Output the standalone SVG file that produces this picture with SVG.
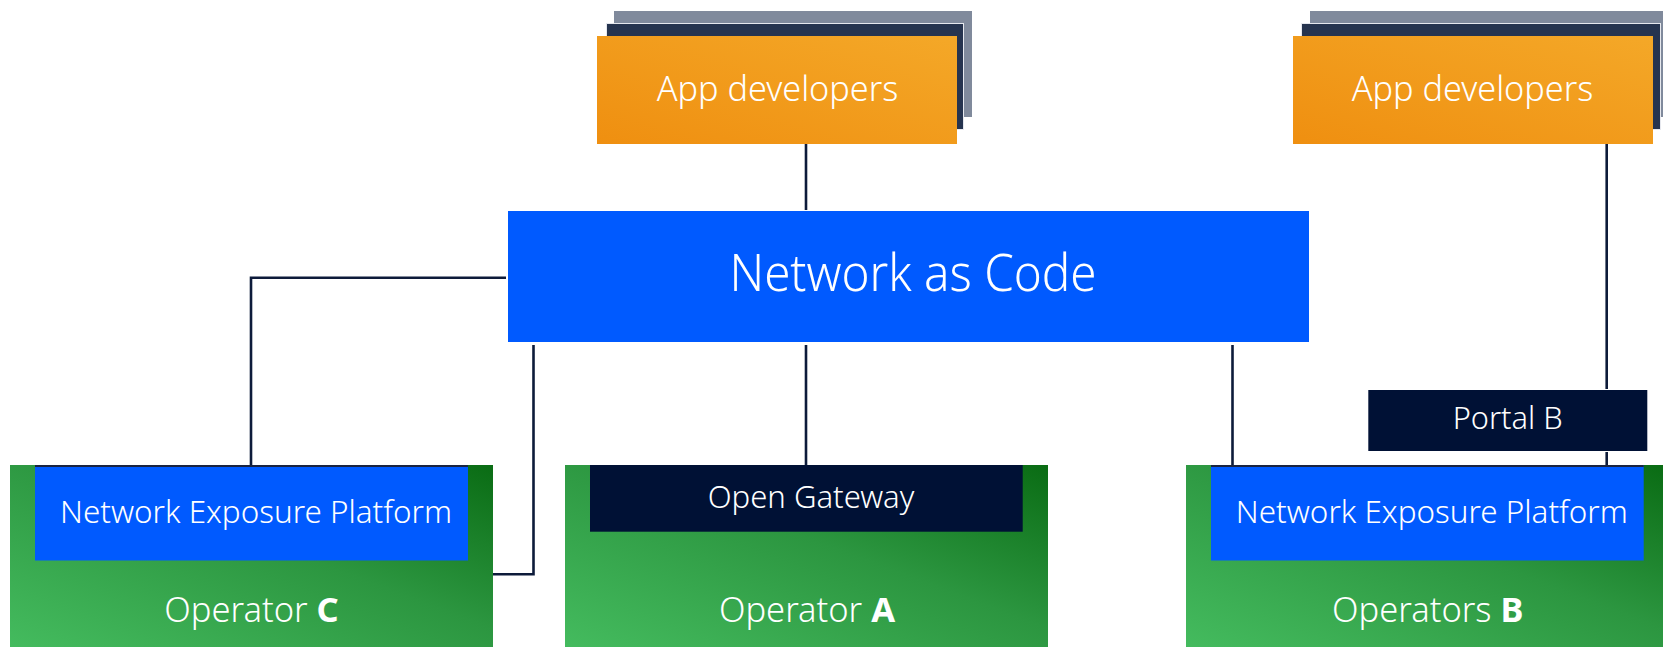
<svg xmlns="http://www.w3.org/2000/svg" width="1663" height="647" viewBox="0 0 1663 647">
<defs>
<linearGradient id="gGreen" x1="0" y1="1" x2="1" y2="0">
<stop offset="0" stop-color="#44bb5e"/>
<stop offset="0.55" stop-color="#2c9640"/>
<stop offset="1" stop-color="#0a6c14"/>
</linearGradient>
<linearGradient id="gOrange" x1="0" y1="1" x2="1" y2="0">
<stop offset="0" stop-color="#ef8f10"/>
<stop offset="1" stop-color="#f4a828"/>
</linearGradient>
<style>
text{font-family:"Noto Sans","Open Sans","DejaVu Sans",sans-serif;fill:#ffffff;text-anchor:middle}
.l{font-weight:300}
.back{fill:#808a9c}
.mid{fill:#26344f;stroke:#e6e8ee;stroke-width:1}
.orange{fill:url(#gOrange)}
.green{fill:url(#gGreen)}
.blue{fill:#005aff}
.navy{fill:#001135}
.conn{fill:none;stroke:#0d1b3a;stroke-width:2.6}
.edge{stroke:#1a2440;stroke-width:2}
</style>
</defs>

<g id="connectors">
<path class="conn" d="M806 144 V210"/>
<path class="conn" d="M1606.7 144 V389"/>
<path class="conn" d="M1606.7 452 V466"/>
<path class="conn" d="M506 277.7 H251 V466"/>
<path class="conn" d="M533.5 345 V574.3 H493"/>
<path class="conn" d="M806 345 V466"/>
<path class="conn" d="M1232.5 345 V466"/>
</g>

<g id="app-dev-1">
<rect class="back" x="614" y="11" width="358" height="106"/>
<rect class="mid" x="606.5" y="23.5" width="357" height="106"/>
<rect class="orange" x="597" y="36" width="360" height="108"/>
<text class="l" x="777.5" y="101" font-size="34.5" textLength="241.7" lengthAdjust="spacingAndGlyphs">App developers</text>
</g>

<g id="app-dev-2">
<rect class="back" x="1310" y="11" width="353" height="106"/>
<rect class="mid" x="1301.5" y="23.5" width="359" height="106"/>
<rect class="orange" x="1293" y="36" width="360" height="108"/>
<text class="l" x="1472.5" y="101" font-size="34.5" textLength="241.7" lengthAdjust="spacingAndGlyphs">App developers</text>
</g>

<g id="network-as-code">
<rect class="blue" x="508" y="211" width="801" height="131"/>
<text class="l" x="913" y="291" font-size="52" textLength="367" lengthAdjust="spacingAndGlyphs">Network as Code</text>
</g>

<g id="operator-c">
<rect class="green" x="10" y="465" width="483" height="182"/>
<rect class="blue" x="35" y="465" width="433" height="95.5"/>
<line class="edge" x1="35" y1="466" x2="468" y2="466"/>
<text class="l" x="256" y="523.3" font-size="31.5" textLength="392" lengthAdjust="spacingAndGlyphs">Network Exposure Platform</text>
<text class="l" x="251.5" y="621.7" font-size="34.5">Operator <tspan font-weight="700">C</tspan></text>
</g>

<g id="operator-a">
<rect class="green" x="565" y="465" width="483" height="182"/>
<rect class="navy" x="590" y="465" width="432.7" height="66.7"/>
<text class="l" x="811" y="507.7" font-size="31.5" textLength="206.7" lengthAdjust="spacingAndGlyphs">Open Gateway</text>
<text class="l" x="807" y="621.7" font-size="34.5">Operator <tspan font-weight="700">A</tspan></text>
</g>

<g id="operators-b">
<rect class="green" x="1186" y="465" width="477" height="182"/>
<rect class="blue" x="1211" y="465" width="432.7" height="95.5"/>
<line class="edge" x1="1211" y1="466" x2="1643.7" y2="466"/>
<text class="l" x="1431.8" y="523.3" font-size="31.5" textLength="392" lengthAdjust="spacingAndGlyphs">Network Exposure Platform</text>
<text class="l" x="1427.8" y="621.7" font-size="34.5">Operators <tspan font-weight="700">B</tspan></text>
</g>

<g id="portal-b">
<rect class="navy" x="1368.3" y="390" width="279" height="61"/>
<text class="l" x="1507.7" y="429.3" font-size="31.5" textLength="110" lengthAdjust="spacingAndGlyphs">Portal B</text>
</g>
</svg>
